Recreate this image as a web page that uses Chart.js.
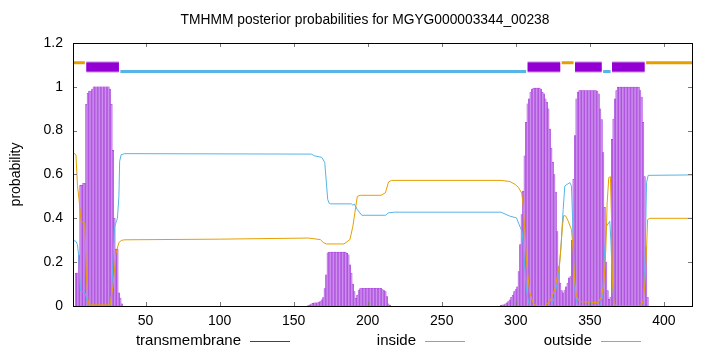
<!DOCTYPE html>
<html>
<head>
<meta charset="utf-8">
<script src="https://cdn.jsdelivr.net/npm/chart.js@4.4.0/dist/chart.umd.min.js"></script>
<style>
html,body{margin:0;padding:0;background:#fff;}
</style>
</head>
<body>
<canvas id="tmChart" width="720" height="352"></canvas>
<script>
// posterior probability of transmembrane, per residue (three runs, start residue + values)
const tmStartA = 3;
const tmA = [0.15, 0.15, 0.23, 0.55, 0.55, 0.56, 0.56, 0.92, 0.97, 0.98, 0.98, 0.99,
  1, 1, 1, 1, 1, 1, 1, 1, 1, 1, 1,
  0.99, 0.92, 0.71, 0.40, 0.26, 0.26, 0.06, 0.036, 0.01];
const tmStartB = 160;
const tmB = [0.003, 0.005, 0.01, 0.012, 0.015, 0.015, 0.015, 0.018, 0.02, 0.028, 0.038, 0.08, 0.142, 0.242,
  0.246, 0.246, 0.246, 0.246, 0.246, 0.246, 0.246, 0.246, 0.246, 0.246, 0.246, 0.246,
  0.24, 0.234, 0.188, 0.15, 0.1, 0.066, 0.035, 0.05, 0.073, 0.08,
  0.081, 0.081, 0.081, 0.081, 0.081, 0.081, 0.081, 0.081, 0.081, 0.081, 0.081, 0.081, 0.081, 0.081,
  0.075, 0.07, 0.066, 0.043, 0.01, 0.003];
const tmStartC = 290;
const tmC = [0.003, 0.005, 0.005, 0.01, 0.015, 0.02, 0.028, 0.04, 0.05, 0.066, 0.075, 0.088,
  0.157, 0.28, 0.417, 0.524, 0.685, 0.838, 0.922, 0.945, 0.976, 0.99,
  0.994, 0.994, 0.994, 0.994, 0.994,
  0.99, 0.975, 0.968, 0.945, 0.93, 0.9, 0.807, 0.72, 0.655, 0.6, 0.52, 0.34, 0.18, 0.104,
  0.07, 0.06, 0.073, 0.088, 0.104, 0.128, 0.134, 0.3, 0.578, 0.777, 0.945, 0.976,
  0.983, 0.983, 0.983, 0.983, 0.983, 0.983, 0.983, 0.983, 0.983, 0.983, 0.983, 0.983,
  0.98, 0.968, 0.9, 0.85, 0.70, 0.45, 0.2, 0.07, 0.03, 0.04,
  0.76, 0.853, 0.945, 0.983,
  0.999, 0.999, 0.999, 0.999, 0.999, 0.999, 0.999, 0.999, 0.999, 0.999, 0.999, 0.999, 0.999, 0.999, 0.999,
  0.983, 0.953, 0.838, 0.59, 0.27, 0.04];

// inside / outside curves: residue positions and probabilities where the line bends
const insideX = [1, 3, 4, 5, 6, 9, 10, 11, 12, 26, 27, 28, 29, 31, 32, 32.5, 33.5, 36,
  162, 164, 169, 171, 173, 174, 175, 189, 190, 191, 193, 196, 212, 214, 218,
  290, 296, 300.5, 302.7, 304.3, 305.6, 307.2, 309, 310, 324, 326.3, 328.6, 330.4, 332, 333.1,
  334.7, 336.5, 337.6, 338.3, 339.2, 340.3, 341.7, 342, 356.8, 358.6, 360.1, 361.3, 363.5,
  364.2, 365.3, 366.2, 367, 386, 387.2, 388.3, 389.4, 419];
const insideY = [0.30, 0.295, 0.28, 0.22, 0.07, 0.06, 0.04, 0.01, 0, 0, 0.05, 0.2, 0.36, 0.4, 0.5, 0.66, 0.69, 0.695,
  0.693, 0.685, 0.678, 0.655, 0.486, 0.468, 0.466, 0.466, 0.46, 0.465, 0.44, 0.414, 0.414, 0.425, 0.428,
  0.428, 0.41, 0.402, 0.364, 0.34, 0.226, 0.073, 0.005, 0, 0, 0.043, 0.134, 0.257, 0.44, 0.547,
  0.555, 0.563, 0.547, 0.41, 0.18, 0.043, 0.005, 0, 0, 0.043, 0.257, 0.364, 0.387,
  0.3, 0.104, 0.01, 0, 0, 0.18, 0.563, 0.596, 0.598];
const outsideX = [1, 3, 4, 5, 6.5, 9, 10, 11, 12, 26, 28, 30, 32, 34, 36, 100, 160,
  168, 170, 172, 184, 188, 190, 193, 195, 209, 212, 214, 216,
  290, 296, 299.5, 301.7, 304, 305, 306.2, 307.3, 309.3, 311.8, 314.5, 319.5, 322.9, 326.3, 329.7,
  331.5, 332.4, 333.8, 335.4, 337.6, 338.7, 339.9, 341, 343.2, 355.6, 357.9, 359.5, 360.8,
  361.7, 362.8, 363.9, 364.6, 365.3, 366.4, 368, 383.8, 386, 387.2, 388.3, 389, 390.5, 419];
const outsideY = [0.70, 0.69, 0.55, 0.49, 0.385, 0.378, 0.15, 0.03, 0.005, 0.005, 0.09, 0.24, 0.29, 0.30, 0.302, 0.305, 0.31,
  0.303, 0.29, 0.283, 0.283, 0.303, 0.364, 0.50, 0.505, 0.505, 0.517, 0.565, 0.573,
  0.573, 0.568, 0.555, 0.542, 0.515, 0.46, 0.333, 0.2, 0.065, 0.012, 0, 0, 0.02, 0.073, 0.196,
  0.364, 0.413, 0.41, 0.387, 0.349, 0.257, 0.104, 0.043, 0.02, 0.015, 0.043, 0.104, 0.257,
  0.47, 0.586, 0.59, 0.41, 0.104, 0.012, 0, 0, 0.02, 0.104, 0.257, 0.394, 0.40, 0.40];

// predicted topology along the top
const outsideSegs = [[1, 9], [331, 339], [388, 419]];
const insideSegs = [[33, 307], [359, 364]];
const helixSegs = [[10, 32], [308, 330], [340, 358], [365, 387]];
const outsideLevel = 1.11, insideLevel = 1.07, helixLevel = 1.09;

const xTicks = [50, 100, 150, 200, 250, 300, 350, 400];
const yTicks = [0, 0.2, 0.4, 0.6, 0.8, 1, 1.2];
const seriesNames = ['transmembrane', 'inside', 'outside'];
const seriesColors = ['#9400d3', '#56b4e9', '#e69f00'];

const FONT = 'Liberation Sans, Arial, sans-serif';

function runPoints(start, vals){
  return vals.map((v, i) => ({x: start + i, y: v}));
}
function pairPoints(xs, ys){
  return xs.map((x, i) => ({x, y: ys[i]}));
}
function segPoints(segs, level){
  return segs.flatMap(([a, b]) => [{x: a, y: level}, {x: b, y: level}, {x: b, y: null}]);
}

const frameKey = {
  id: 'frameKey',
  afterDraw(chart){
    const {ctx, chartArea: a, scales: {x, y}} = chart;
    ctx.save();
    // inward mirrored ticks
    ctx.strokeStyle = '#777';
    ctx.lineWidth = 1;
    ctx.beginPath();
    xTicks.forEach(v => {
      const px = Math.round(x.getPixelForValue(v)) + 0.5;
      ctx.moveTo(px, a.bottom); ctx.lineTo(px, a.bottom - 4);
      ctx.moveTo(px, a.top); ctx.lineTo(px, a.top + 4);
    });
    yTicks.forEach(v => {
      const py = Math.round(y.getPixelForValue(v)) + 0.5;
      ctx.moveTo(a.left, py); ctx.lineTo(a.left + 4, py);
      ctx.moveTo(a.right, py); ctx.lineTo(a.right - 4, py);
    });
    ctx.stroke();
    // border box
    ctx.strokeStyle = '#000';
    ctx.strokeRect(Math.round(a.left) + 0.5, Math.round(a.top) + 0.5,
      Math.round(a.right - a.left), Math.round(a.bottom - a.top));
    // key below the plot: text then line sample
    ctx.font = '15px ' + FONT;
    ctx.fillStyle = '#000';
    ctx.textAlign = 'right';
    ctx.textBaseline = 'middle';
    const keyY = 341;
    const textRight = [241, 416, 592];
    seriesNames.forEach((name, i) => {
      ctx.fillText(name, textRight[i], keyY);
      ctx.strokeStyle = seriesColors[i];
      ctx.beginPath();
      ctx.moveTo(textRight[i] + 9, keyY + 0.5);
      ctx.lineTo(textRight[i] + 49, keyY + 0.5);
      ctx.stroke();
    });
    ctx.restore();
  }
};

const lineStyle = {type: 'line', pointRadius: 0, tension: 0, fill: false, spanGaps: false};

new Chart(document.getElementById('tmChart'), {
  type: 'bar',
  data: {
    datasets: [
      {...lineStyle, label: 'outside', data: pairPoints(outsideX, outsideY), borderColor: '#e69f00', borderWidth: 1, order: 1},
      {...lineStyle, label: 'inside', data: pairPoints(insideX, insideY), borderColor: '#56b4e9', borderWidth: 1, order: 1},
      {...lineStyle, label: 'outside track', data: segPoints(outsideSegs, outsideLevel), borderColor: '#e69f00', borderWidth: 3, order: 1},
      {...lineStyle, label: 'inside track', data: segPoints(insideSegs, insideLevel), borderColor: '#56b4e9', borderWidth: 3, order: 1},
      {...lineStyle, label: 'helix core', data: segPoints(helixSegs, helixLevel), borderColor: '#9400d3', borderWidth: 9, order: 1},
      {...lineStyle, label: 'helix edge', data: segPoints(helixSegs, helixLevel), borderColor: '#c98ae8', borderWidth: 11, order: 2},
      {
        type: 'bar', label: 'transmembrane',
        data: [...runPoints(tmStartA, tmA), ...runPoints(tmStartB, tmB), ...runPoints(tmStartC, tmC)],
        backgroundColor: '#cb8fec', borderColor: '#9f2ad8', borderWidth: 0.45,
        barPercentage: 1, categoryPercentage: 1, order: 3
      }
    ]
  },
  options: {
    responsive: false,
    animation: false,
    devicePixelRatio: 1,
    layout: {padding: {left: 10, right: 0, top: 0, bottom: 0}},
    plugins: {
      legend: {display: false},
      tooltip: {enabled: false},
      title: {
        display: true,
        text: 'TMHMM posterior probabilities for MGYG000003344_00238',
        color: '#000',
        font: {family: FONT, size: 13.8, weight: 'normal'},
        padding: {top: 12, bottom: 14.4}
      }
    },
    scales: {
      x: {
        type: 'linear', min: 1, max: 419, offset: false,
        grid: {display: false, drawTicks: false},
        border: {display: false},
        afterBuildTicks: s => { s.ticks = xTicks.map(v => ({value: v})); },
        afterFit: s => { s.height = 46; },
        ticks: {color: '#000', font: {family: FONT, size: 14}, padding: 7, maxRotation: 0, callback: v => String(v)}
      },
      y: {
        min: 0, max: 1.2,
        grid: {display: false, drawTicks: false},
        border: {display: false},
        afterBuildTicks: s => { s.ticks = yTicks.map(v => ({value: v})); },
        afterFit: s => { s.width = 63; },
        ticks: {color: '#000', font: {family: FONT, size: 14}, padding: 10, callback: v => String(v)},
        title: {display: true, text: 'probability', color: '#000', font: {family: FONT, size: 14}, padding: {top: -2, bottom: 0}}
      },
      yr: {
        position: 'right', min: 0, max: 1,
        grid: {display: false, drawTicks: false},
        border: {display: false},
        ticks: {display: false},
        afterFit: s => { s.width = 28; }
      }
    }
  },
  plugins: [frameKey]
});
</script>
</body>
</html>
